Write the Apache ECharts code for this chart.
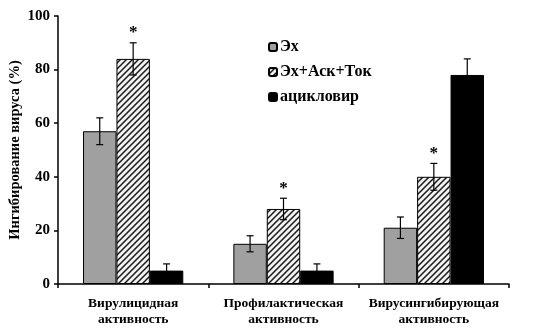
<!DOCTYPE html>
<html>
<head>
<meta charset="utf-8">
<script src="https://cdn.jsdelivr.net/npm/echarts@6/dist/echarts.min.js"></script>
<style>
  html, body { margin: 0; padding: 0; background: #fff; }
  #chart { width: 533px; height: 329px; }
</style>
</head>
<body>
<div id="chart"></div>
<script>
// Virus inhibition (%) by activity type and treatment
const categories = ['Вирулицидная\nактивность', 'Профилактическая\nактивность', 'Вирусингибирующая\nактивность'];
const seriesNames = ['Эх', 'Эх+Аск+Ток', 'ацикловир'];
const exValues = [57, 15, 21];
const exErrors = [5, 3, 4];
const comboValues = [84, 28, 40];
const comboErrors = [6, 4, 5];
const acyclovirValues = [5, 5, 78];
const acyclovirErrors = [2.5, 2.5, 6];
const comboSignificant = [true, true, true];
const yTicks = [0, 20, 40, 60, 80, 100];

const FONT = '"Liberation Serif", "Times New Roman", serif';

// diagonal hatch tile for the combination series
function hatchTile() {
  const s = 6;
  const c = document.createElement('canvas');
  c.width = s; c.height = s;
  const g = c.getContext('2d');
  g.fillStyle = '#f2f2f2';
  g.fillRect(0, 0, s, s);
  g.strokeStyle = '#1a1a1a';
  g.lineWidth = 1.5;
  g.beginPath();
  g.moveTo(-1, s + 1); g.lineTo(s + 1, -1);
  g.moveTo(-1, 1); g.lineTo(1, -1);
  g.moveTo(s - 1, s + 1); g.lineTo(s + 1, s - 1);
  g.stroke();
  return c;
}
const hatch = { image: hatchTile(), repeat: 'repeat' };

const chart = echarts.init(document.getElementById('chart'), null, { renderer: 'canvas' });

const GAP = 0.333; // fraction of category width left empty
const valueSets = [exValues, comboValues, acyclovirValues];
const errorSets = [exErrors, comboErrors, acyclovirErrors];

const errData = [];
valueSets.forEach((vals, s) => {
  vals.forEach((v, i) => {
    errData.push([i, v, errorSets[s][i], s, s === 1 && comboSignificant[i] ? 1 : 0]);
  });
});

function renderError(params, api) {
  const i = api.value(0), v = api.value(1), e = api.value(2), s = api.value(3), star = api.value(4);
  const catW = api.size([1, 0])[0];
  const barW = catW * (1 - GAP) / 3;
  const center = api.coord([i, v]);
  const x = center[0] + (s - 1) * barW;
  const top = api.coord([i, v + e])[1];
  const bot = api.coord([i, v - e])[1];
  const cap = 3.5;
  const style = { stroke: '#000', lineWidth: 1.2 };
  const children = [
    { type: 'line', shape: { x1: x, y1: top, x2: x, y2: bot }, style },
    { type: 'line', shape: { x1: x - cap, y1: top, x2: x + cap, y2: top }, style },
    { type: 'line', shape: { x1: x - cap, y1: bot, x2: x + cap, y2: bot }, style }
  ];
  if (star) {
    children.push({
      type: 'text',
      style: { text: '*', x: x, y: top - 10, textAlign: 'center', textVerticalAlign: 'middle',
               font: 'bold 17px ' + FONT, fill: '#000' }
    });
  }
  return { type: 'group', children };
}

const barStyle = (color) => ({ color, borderColor: '#000', borderWidth: 1 });

chart.setOption({
  animation: false,
  backgroundColor: '#fff',
  grid: { left: 58, right: 24, top: 16, bottom: 45, containLabel: false, outerBoundsMode: 'none' },
  legend: {
    orient: 'vertical',
    left: 263,
    top: 34,
    itemWidth: 8,
    itemHeight: 8,
    itemGap: 9,
    data: seriesNames,
    textStyle: { fontFamily: FONT, fontWeight: 'bold', fontSize: 16, color: '#000', padding: [0, 0, 0, -2] }
  },
  xAxis: {
    type: 'category',
    data: categories,
    axisLine: { lineStyle: { color: '#000', width: 1.5 } },
    axisTick: { show: true, length: 4, lineStyle: { color: '#000', width: 1.5 } },
    axisLabel: {
      interval: 0,
      margin: 12,
      fontFamily: FONT, fontWeight: 'bold', fontSize: 13.5, color: '#000', lineHeight: 16
    }
  },
  yAxis: {
    type: 'value',
    min: 0, max: 100, interval: 20,
    name: 'Ингибирование вируса (%)',
    nameLocation: 'middle',
    nameGap: 35,
    nameMoveOverlap: false,
    nameTextStyle: { fontFamily: FONT, fontWeight: 'bold', fontSize: 14.5, color: '#000' },
    splitLine: { show: false },
    axisLine: { show: true, lineStyle: { color: '#000', width: 1.5 } },
    axisTick: { show: true, length: 4, lineStyle: { color: '#000', width: 1.5 } },
    axisLabel: {
      margin: 8,
      fontFamily: FONT, fontWeight: 'bold', fontSize: 15, color: '#000',
      formatter: (v) => yTicks.includes(v) ? String(v) : ''
    }
  },
  series: [
    { name: seriesNames[0], type: 'bar', data: exValues, barGap: '0%', barCategoryGap: (GAP * 100) + '%',
      itemStyle: barStyle('#a0a0a0') },
    { name: seriesNames[1], type: 'bar', data: comboValues, barGap: '0%', barCategoryGap: (GAP * 100) + '%',
      itemStyle: barStyle(hatch) },
    { name: seriesNames[2], type: 'bar', data: acyclovirValues, barGap: '0%', barCategoryGap: (GAP * 100) + '%',
      itemStyle: barStyle('#000') },
    { type: 'custom', data: errData, renderItem: renderError, z: 10, silent: true,
      encode: { x: 0, y: 1 } }
  ]
});
</script>
</body>
</html>
